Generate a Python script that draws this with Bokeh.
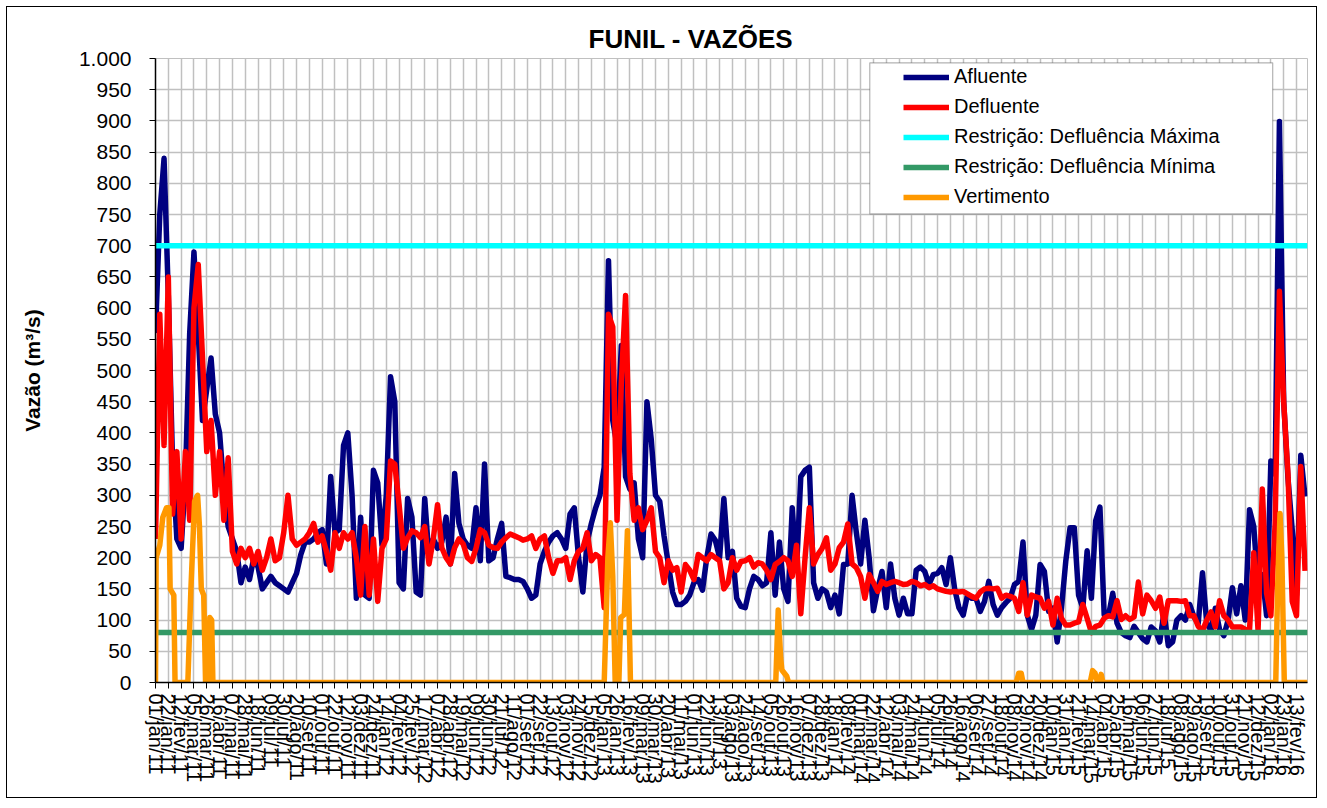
import math
import datetime as dt
from bokeh.plotting import figure
from bokeh.models import Range1d, FixedTicker, Legend, LegendItem, BoxAnnotation
from bokeh.embed import file_html
from bokeh.resources import INLINE

# ---------------- data ----------------
START = dt.date(2011, 1, 1)          # first day of the series
STEP_DAYS = 7                         # spacing of the sampled values (days)

afluente = [
    560, 750, 840, 620, 350, 230, 215, 330, 560, 690, 560, 420, 470, 520, 430, 400, 310, 250, 230, 210,
    160, 185, 165, 200, 185, 150, 160, 170, 160, 155, 150, 145, 160, 175, 205, 225, 225, 230, 240, 245,
    190, 330, 240, 245, 380, 400, 300, 135, 265, 140, 135, 340, 320, 220, 300, 490, 450, 160, 150, 295,
    265, 145, 140, 295, 200, 230, 215, 225, 265, 190, 335, 255, 230, 220, 215, 280, 195, 350, 195, 200,
    230, 255, 170, 168, 165, 165, 162, 150, 135, 140, 190, 210, 225, 235, 240, 230, 215, 270, 280, 200,
    145, 225, 255, 280, 300, 345, 676, 420, 380, 540, 330, 310, 320, 230, 200, 450, 390, 300, 290, 235,
    190, 145, 125, 125, 130, 140, 160, 165, 148, 200, 238, 228, 200, 295, 200, 210, 135, 122, 120, 150,
    170, 165, 155, 160, 240, 140, 225, 150, 130, 280, 180, 330, 340, 345, 160, 135, 150, 145, 120, 140,
    110, 189, 190, 300, 240, 190, 260, 200, 115, 150, 178, 120, 190, 135, 108, 135, 110, 110, 180, 185,
    178, 157, 173, 175, 184, 157, 200, 150, 120, 108, 140, 135, 135, 114, 130, 162, 125, 108, 120, 128,
    135, 157, 162, 225, 108, 85, 108, 189, 178, 114, 119, 65, 119, 194, 248, 248, 140, 119, 211, 135,
    259, 281, 108, 107, 143, 95, 80, 75, 72, 90, 80, 70, 65, 89, 83, 65, 113, 59, 65, 100,
    107, 100, 125, 105, 95, 176, 95, 83, 119, 85, 75, 100, 152, 110, 155, 100, 277, 250, 154, 173,
    107, 355, 334, 899, 450, 328, 244, 140, 364, 298,
]

defluente = [
    230, 590, 380, 650, 270, 370, 230, 370, 260, 600, 670, 520, 370, 420, 300, 370, 260, 360, 210, 190,
    215, 200, 215, 190, 210, 180, 200, 230, 195, 200, 240, 300, 230, 220, 225, 230, 240, 255, 225, 235,
    210, 180, 240, 215, 240, 230, 240, 200, 140, 250, 140, 230, 130, 215, 230, 355, 350, 285, 215, 232,
    243, 240, 232, 250, 190, 230, 285, 216, 200, 190, 216, 230, 222, 200, 194, 215, 245, 240, 220, 216,
    215, 225, 232, 238, 235, 232, 228, 230, 235, 215, 230, 235, 200, 175, 195, 195, 200, 165, 195, 210,
    215, 240, 195, 205, 200, 120, 590, 570, 260, 480, 620, 335, 260, 280, 245, 260, 280, 210, 200, 160,
    195, 180, 184, 145, 189, 180, 165, 205, 200, 195, 205, 200, 195, 150, 160, 200, 180, 194, 195, 200,
    185, 192, 190, 180, 165, 189, 194, 200, 195, 170, 220, 110, 200, 280, 190, 205, 215, 232, 180, 190,
    216, 225, 254, 190, 184, 170, 135, 173, 160, 146, 162, 157, 160, 162, 160, 157, 158, 162, 160, 155,
    157, 152, 155, 150, 148, 146, 145, 146, 145, 146, 142, 138, 135, 145, 150, 151, 150, 151, 135, 140,
    138, 135, 114, 160, 108, 140, 137, 135, 119, 130, 92, 135, 103, 92, 92, 95, 97, 125, 103, 80,
    90, 92, 103, 107, 105, 131, 101, 107, 101, 105, 161, 110, 140, 131, 119, 137, 95, 131, 131, 131,
    130, 131, 107, 107, 90, 83, 100, 113, 89, 131, 107, 100, 89, 89, 89, 85, 83, 208, 83, 310,
    143, 107, 256, 627, 450, 334, 130, 107, 346, 179,
]

# Vertimento: day offset from START and value (m3/s); zero elsewhere
vert_day = [0, 1, 7, 12, 18, 22, 24, 30, 32,
            53, 58, 64, 69, 72, 75, 79, 82, 87, 89, 92, 94,
            735, 741, 745, 749, 753, 759, 762, 768, 773, 778,
            1016, 1020, 1024, 1026, 1034, 1037,
            1410, 1414, 1418, 1421,
            1531, 1535, 1539, 1543, 1547, 1549, 1552,
            1835, 1838, 1842, 1845, 1849, 1887]
vert_val = [0, 200, 220, 265, 280, 280, 150, 140, 0,
            0, 150, 290, 300, 250, 150, 140, 0, 0, 104, 100, 0,
            0, 200, 256, 170, 0, 0, 104, 109, 243, 0,
            0, 116, 40, 20, 10, 0,
            0, 15, 15, 0,
            0, 19, 15, 0, 0, 13, 0,
            0, 150, 271, 200, 0, 0]

restr_max = 700   # Restrição: Defluência Máxima
restr_min = 80    # Restrição: Defluência Mínima

months_pt = ["jan", "fev", "mar", "abr", "mai", "jun", "jul", "ago", "set", "out", "nov", "dez"]
TICK_EVERY_DAYS = 21
N_TICKS = 90
LAST_DAY = 1887
y_ticks = list(range(0, 1001, 50))
y_overrides = {1000: "1.000"}

series_labels = ["Afluente", "Defluente", "Restrição: Defluência Máxima",
                 "Restrição: Defluência Mínima", "Vertimento"]
series_colors = ["#000080", "#FF0000", "#00FFFF", "#339966", "#FF9900"]

# ---------------- derived ----------------
days = [STEP_DAYS * i for i in range(len(afluente))]
tick_days = [TICK_EVERY_DAYS * i for i in range(N_TICKS)]


def fmt(d):
    return "%02d/%s/%02d" % (d.day, months_pt[d.month - 1], d.year % 100)


x_overrides = {t: fmt(START + dt.timedelta(days=t)) for t in tick_days}

FONT = "Liberation Sans"

p = figure(width=1311, height=792, output_backend="svg", toolbar_location=None,
           x_range=Range1d(0, LAST_DAY), y_range=Range1d(0, 1000),
           min_border_left=148, min_border_right=11, min_border_top=51, min_border_bottom=117,
           title="FUNIL - VAZÕES")
p.styles = {"border": "1px solid black", "margin-left": "6px", "margin-top": "6px"}
p.title.text_font = FONT
p.title.text_font_size = "26px"
p.title.text_font_style = "bold"
p.title.align = "left"
p.title.offset = 433
p.title.text_color = "black"

p.outline_line_color = "#c0c0c0"
p.background_fill_color = "white"

# axes
p.yaxis.ticker = FixedTicker(ticks=y_ticks)
p.yaxis.major_label_overrides = y_overrides
p.yaxis.axis_label = "Vazão (m³/s)"
p.yaxis.axis_label_text_font = FONT
p.yaxis.axis_label_text_font_size = "21px"
p.yaxis.axis_label_text_font_style = "bold"
p.yaxis.axis_label_text_color = "black"
p.yaxis.axis_label_standoff = 32
p.yaxis.major_label_text_font = FONT
p.yaxis.major_label_text_font_size = "21px"
p.yaxis.major_label_text_color = "black"
p.yaxis.major_label_standoff = 18

p.xaxis.ticker = FixedTicker(ticks=tick_days)
p.xaxis.major_label_overrides = x_overrides
p.xaxis.major_label_orientation = -math.pi / 2
p.xaxis.major_label_text_font = FONT
p.xaxis.major_label_text_font_size = "20px"
p.xaxis.major_label_text_color = "black"
p.xaxis.major_label_standoff = 5

for ax in (p.xaxis, p.yaxis):
    ax.axis_line_color = "black"
    ax.axis_line_width = 1.5
    ax.major_tick_line_color = "black"
    ax.major_tick_in = 0
    ax.major_tick_out = 6
    ax.minor_tick_line_color = None

p.xgrid.ticker = FixedTicker(ticks=tick_days)
p.ygrid.ticker = FixedTicker(ticks=y_ticks)
for g in (p.xgrid, p.ygrid):
    g.grid_line_color = "#c0c0c0"
    g.grid_line_width = 1.5

# series
LW = 5.5
r_af = p.line(days, afluente, line_color=series_colors[0], line_width=LW, line_join="round")
r_de = p.line(days, defluente, line_color=series_colors[1], line_width=LW, line_join="round")
r_mx = p.line([0, LAST_DAY], [restr_max, restr_max], line_color=series_colors[2], line_width=LW)
r_mn = p.line([0, LAST_DAY], [restr_min, restr_min], line_color=series_colors[3], line_width=LW)
r_vt = p.line(vert_day, vert_val, line_color=series_colors[4], line_width=LW, line_join="round")
renderers = [r_af, r_de, r_mx, r_mn, r_vt]

# legend frame (white box with black border)
box = BoxAnnotation(left=1170, right=1830, bottom=751, top=993,
                    fill_color="white", fill_alpha=1.0, line_color="black", line_width=1.2)
p.add_layout(box)

legend = Legend(items=[LegendItem(label=l, renderers=[r]) for l, r in zip(series_labels, renderers)],
                location=(748, 474), border_line_color=None, background_fill_alpha=0,
                padding=4, spacing=7, margin=0, glyph_width=46, glyph_height=20,
                label_standoff=5, label_text_font=FONT, label_text_font_size="20px",
                label_text_color="black", label_height=20)
p.add_layout(legend)

open("out.html", "w").write(file_html(p, INLINE))
